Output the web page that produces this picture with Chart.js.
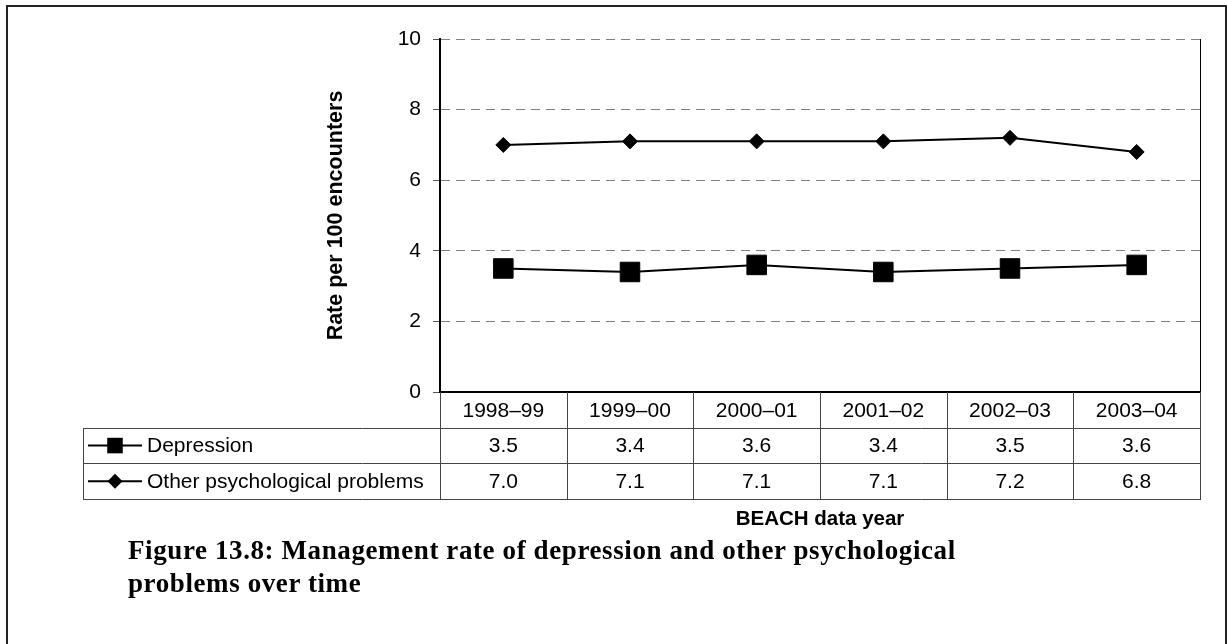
<!DOCTYPE html>
<html>
<head>
<meta charset="utf-8">
<title>Figure 13.8</title>
<script src="https://cdn.jsdelivr.net/npm/chart.js"></script>
<style>
  body { margin: 0; background: #fff; }
  #wrap { position: relative; width: 1227px; height: 644px; }
  #caption {
    position: absolute; left: 128px; top: 534px;
    font: bold 27px "Liberation Serif", serif; line-height: 33px;
    letter-spacing: 0.6px; color: #000; white-space: nowrap;
  }
</style>
</head>
<body>
<div id="wrap">
  <canvas id="myChart" width="1227" height="644"></canvas>
  <div id="caption">Figure 13.8: Management rate of depression and other psychological<br>problems over time</div>
</div>
<script>
'use strict';

// data
let years = ['1998–99', '1999–00', '2000–01', '2001–02', '2002–03', '2003–04'];
let depression = [3.5, 3.4, 3.6, 3.4, 3.5, 3.6];
let otherPsych = [7.0, 7.1, 7.1, 7.1, 7.2, 6.8];
let seriesNames = ['Depression', 'Other psychological problems'];
let yMin = 0;
let yMax = 10;
let yStep = 2;

let sansFont = 'Liberation Sans';

// draws the outer frame, the right edge of the plot and the data table under the axis
let tablePlugin = {
  id: 'dataTable',
  afterDraw(chart) {
    let ctx = chart.ctx;
    let area = chart.chartArea;
    let xs = chart.scales.x;
    let half = (xs.getPixelForValue(1) - xs.getPixelForValue(0)) / 2;
    let rowH = 35.7;
    let tableLeft = 83;
    let top = area.bottom;

    ctx.save();

    // frame round the whole figure (no bottom edge visible)
    ctx.strokeStyle = '#222';
    ctx.lineWidth = 2;
    ctx.beginPath();
    ctx.moveTo(7, 644);
    ctx.lineTo(7, 6);
    ctx.lineTo(1226, 6);
    ctx.lineTo(1226, 644);
    ctx.stroke();

    // right border of plot
    ctx.strokeStyle = '#000';
    ctx.lineWidth = 1;
    ctx.beginPath();
    ctx.moveTo(area.right + 0.5, area.top);
    ctx.lineTo(area.right + 0.5, area.bottom);
    ctx.stroke();

    // table grid
    ctx.strokeStyle = '#444';
    ctx.lineWidth = 1;
    ctx.beginPath();
    for (let r = 1; r <= 3; r++) {
      let y = Math.round(top + r * rowH) + 0.5;
      ctx.moveTo(tableLeft, y);
      ctx.lineTo(area.right + 1, y);
    }
    for (let i = 0; i <= years.length; i++) {
      let bx = Math.round(xs.getPixelForValue(i) - half) + 0.5;
      ctx.moveTo(bx, top);
      ctx.lineTo(bx, Math.round(top + 3 * rowH) + 0.5);
    }
    ctx.moveTo(tableLeft + 0.5, Math.round(top + rowH));
    ctx.lineTo(tableLeft + 0.5, Math.round(top + 3 * rowH) + 0.5);
    ctx.stroke();

    // texts
    ctx.fillStyle = '#000';
    ctx.font = '21px "' + sansFont + '"';
    ctx.textBaseline = 'middle';
    ctx.textAlign = 'center';
    for (let i = 0; i < years.length; i++) {
      let cx = xs.getPixelForValue(i);
      ctx.fillText(years[i], cx, top + rowH * 0.5 + 1);
      ctx.fillText(depression[i].toFixed(1), cx, top + rowH * 1.5 + 1);
      ctx.fillText(otherPsych[i].toFixed(1), cx, top + rowH * 2.5 + 1);
    }

    // legend keys in the table
    chart.data.datasets.forEach(function (ds, k) {
      let cy = top + rowH * (k + 1.5);
      ctx.strokeStyle = '#000';
      ctx.lineWidth = 2;
      ctx.beginPath();
      ctx.moveTo(88, cy);
      ctx.lineTo(142, cy);
      ctx.stroke();
      ctx.fillStyle = '#000';
      Chart.helpers.drawPoint(ctx, {
        pointStyle: ds.pointStyle,
        rotation: 0,
        radius: k === 0 ? 11 : 7.5,
        borderWidth: 0
      }, 115, cy);
      ctx.textAlign = 'left';
      ctx.fillText(seriesNames[k], 147, cy + 1);
    });

    ctx.restore();
  }
};

let ctx = document.getElementById('myChart').getContext('2d');
let chart = new Chart(ctx, {
  type: 'line',
  data: {
    labels: years,
    datasets: [{
      label: seriesNames[0],
      data: depression,
      borderColor: '#000',
      backgroundColor: '#000',
      borderWidth: 2,
      pointStyle: 'rect',
      pointRadius: 13.8,
      pointBorderWidth: 1,
      pointBackgroundColor: '#000'
    }, {
      label: seriesNames[1],
      data: otherPsych,
      borderColor: '#000',
      backgroundColor: '#000',
      borderWidth: 2,
      pointStyle: 'rectRot',
      pointRadius: 7.5,
      pointBorderWidth: 1,
      pointBackgroundColor: '#000'
    }]
  },
  options: {
    responsive: false,
    animation: false,
    layout: { padding: { left: 320, right: 27, top: 39, bottom: 112 } },
    plugins: {
      legend: { display: false },
      tooltip: { enabled: false }
    },
    scales: {
      x: {
        offset: true,
        grid: { display: false },
        border: { color: '#000', width: 2 },
        ticks: { display: false },
        title: {
          display: true,
          text: 'BEACH data year',
          color: '#000',
          font: { family: sansFont, size: 20.5, weight: 'bold' },
          padding: 0
        },
        afterFit(scale) { scale.height = 140; }
      },
      y: {
        min: yMin,
        max: yMax,
        ticks: {
          stepSize: yStep,
          color: '#000',
          padding: 12,
          font: { family: sansFont, size: 21 }
        },
        grid: {
          color: '#808080',
          lineWidth: 1,
          tickColor: '#555',
          tickLength: 7,
          tickBorderDash: []
        },
        border: { color: '#000', width: 2, dash: [9, 6] },
        title: {
          display: true,
          text: 'Rate per 100 encounters',
          color: '#000',
          font: { family: sansFont, size: 21.5, weight: 'bold' },
          padding: { top: 3, bottom: 0 }
        },
        afterFit(scale) { scale.width = 120; }
      }
    }
  },
  plugins: [tablePlugin]
});
</script>
</body>
</html>
